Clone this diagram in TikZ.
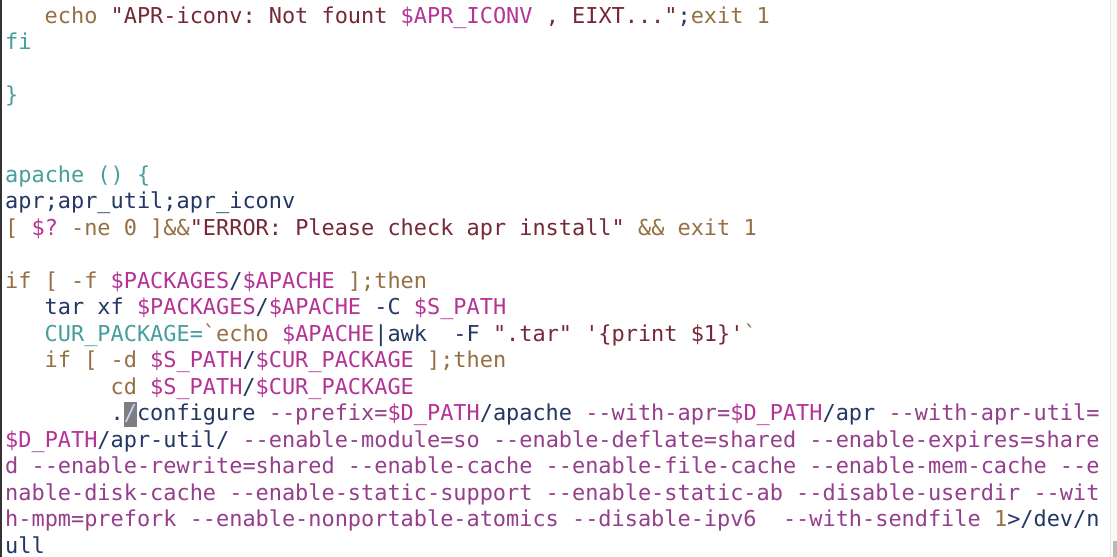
\documentclass[tikz,border=0pt]{standalone}
\usepackage{xcolor}
\usepackage{fontspec}
\setmonofont{DejaVu Sans Mono}
\usepackage{tikz}
\usetikzlibrary{positioning}

\definecolor{kwbrown}{RGB}{150,112,66}
\definecolor{strmaroon}{RGB}{118,40,55}
\definecolor{varpink}{RGB}{180,52,150}
\definecolor{optpurple}{RGB}{150,62,140}
\definecolor{fnteal}{RGB}{70,158,158}
\definecolor{cmdnavy}{RGB}{35,55,100}
\definecolor{cursorgray}{RGB}{125,125,130}

\newcommand{\ckw}[1]{{\color{kwbrown}\relax#1}}
\newcommand{\cstr}[1]{{\color{strmaroon}\relax#1}}
\newcommand{\cvar}[1]{{\color{varpink}\relax#1}}
\newcommand{\copt}[1]{{\color{optpurple}\relax#1}}
\newcommand{\cfn}[1]{{\color{fnteal}\relax#1}}
\newcommand{\ccmd}[1]{{\color{cmdnavy}\relax#1}}

\begin{document}
\begin{tikzpicture}[
    x=13.18pt,
    y=-26.5pt,
    codeline/.style={
        anchor=base west,
        inner sep=0pt,
        font=\ttfamily\fontsize{21.9pt}{26pt}\selectfont
    },
    cursor/.style={
        fill=cursorgray
    }
]

% Frame
\path[use as bounding box, fill=white] (-5pt,23pt) rectangle (1112pt,-534pt);
\fill[black!80] (-5pt,23pt) rectangle (-3.3pt,-534pt);
\fill[gray!5] (1105pt,23pt) rectangle (1112pt,-534pt);
\draw[gray!20] (1105pt,23pt) -- (1105pt,-534pt);
\fill[gray!55] (1108pt,-518pt) rectangle (1112pt,-534pt);

% Cursor
\fill[cursor] (9,15) ++(0pt,-6pt) rectangle ++(13.18pt,25pt);

% Nodes
\node[codeline] (echoline) at (3,0) {\ckw{echo} \cstr{"APR-iconv: Not fount }\cvar{\$APR\_ICONV}\cstr{ , EIXT..."}\ccmd{;}\ckw{exit 1}};
\node[codeline] (fiend) at (0,1) {\cfn{fi}};
\node[codeline] (braceend) at (0,3) {\cfn{\}}};
\node[codeline] (apachefn) at (0,6) {\cfn{apache () \{}};
\node[codeline] (aprcall) at (0,7) {\ccmd{apr;apr\_util;apr\_iconv}};
\node[codeline] (checkline) at (0,8) {\ckw{[ }\cvar{\$?}\ckw{ -ne 0 ]\&\&}\cstr{"ERROR: Please check apr install"}\ckw{ \&\& exit 1}};
\node[codeline] (ifpkg) at (0,10) {\ckw{if [ -f }\cvar{\$PACKAGES}\ccmd{/}\cvar{\$APACHE}\ckw{ ];then}};
\node[codeline] (tarline) at (3,11) {\ccmd{tar xf }\cvar{\$PACKAGES}\ccmd{/}\cvar{\$APACHE}\ccmd{ -C }\cvar{\$S\_PATH}};
\node[codeline] (curpkg) at (3,12) {\cfn{CUR\_PACKAGE=}\ckw{`echo }\cvar{\$APACHE}\ccmd{|awk~~-F }\cstr{".tar" '\{print \$1\}'}\ckw{`}};
\node[codeline] (ifdir) at (3,13) {\ckw{if [ -d }\cvar{\$S\_PATH}\ccmd{/}\cvar{\$CUR\_PACKAGE}\ckw{ ];then}};
\node[codeline] (cdline) at (8,14) {\ckw{cd }\cvar{\$S\_PATH}\ccmd{/}\cvar{\$CUR\_PACKAGE}};
\node[codeline] (confa) at (8,15) {\ccmd{.}\textcolor{white!80!blue}{/}\ccmd{configure }\copt{--prefix=}\cvar{\$D\_PATH}\ccmd{/apache }\copt{--with-apr=}\cvar{\$D\_PATH}\ccmd{/apr }\copt{--with-apr-util=}};
\node[codeline] (confb) at (0,16) {\cvar{\$D\_PATH}\ccmd{/apr-util/ }\copt{--enable-module=so --enable-deflate=shared --enable-expires=share}};
\node[codeline] (confc) at (0,17) {\copt{d --enable-rewrite=shared --enable-cache --enable-file-cache --enable-mem-cache --e}};
\node[codeline] (confd) at (0,18) {\copt{nable-disk-cache --enable-static-support --enable-static-ab --disable-userdir --wit}};
\node[codeline] (confe) at (0,19) {\copt{h-mpm=prefork --enable-nonportable-atomics --disable-ipv6~~--with-sendfile }\ckw{1}\ccmd{>/dev/n}};
\node[codeline] (conff) at (0,20) {\ccmd{ull}};

\end{tikzpicture}
\end{document}
